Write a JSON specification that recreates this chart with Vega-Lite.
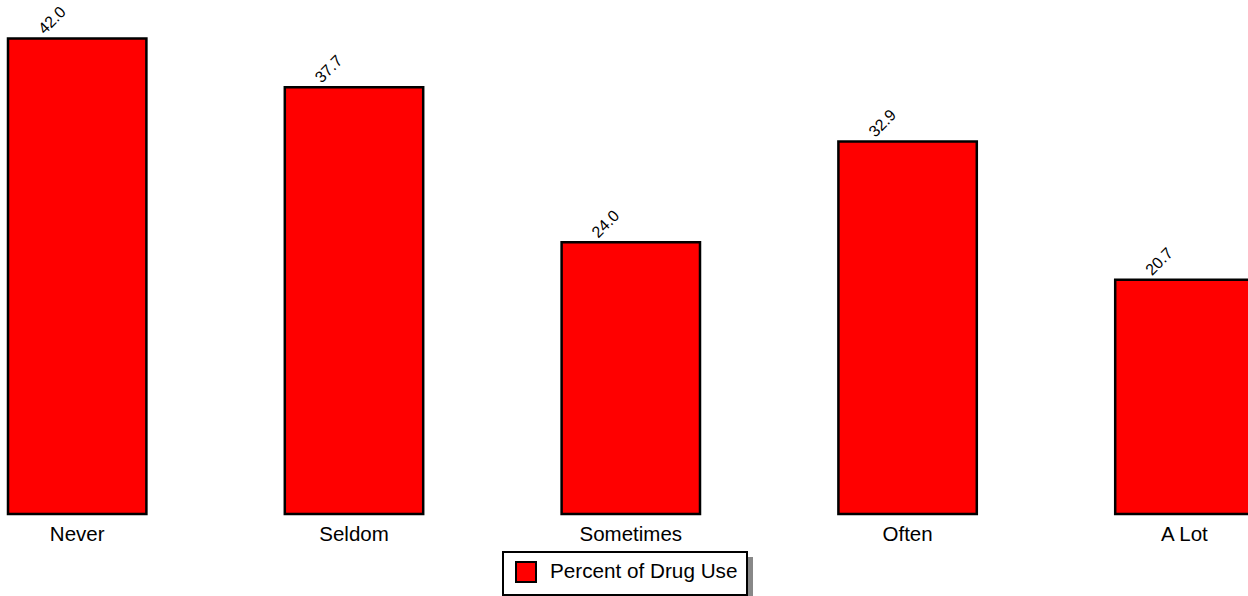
{
  "$schema": "https://vega.github.io/schema/vega-lite/v6.json",
  "width": 1248,
  "height": 514,
  "autosize": {"type": "none"},
  "padding": {"left": 0, "top": 0, "right": 0, "bottom": 82},
  "background": "white",
  "config": {
    "view": {"stroke": null},
    "font": "Liberation Sans",
    "legend": {"strokeWidth": 2}
  },
  "data": {
    "values": [
      {"category": "Never", "percent": 42.0},
      {"category": "Seldom", "percent": 37.7},
      {"category": "Sometimes", "percent": 24.0},
      {"category": "Often", "percent": 32.9},
      {"category": "A Lot", "percent": 20.7}
    ]
  },
  "encoding": {
    "x": {
      "field": "category",
      "type": "nominal",
      "sort": null,
      "scale": {"range": [8, 1253.6], "paddingInner": 0.5, "paddingOuter": 0},
      "axis": {
        "title": null,
        "labelAngle": 0,
        "labelFontSize": 20.5,
        "labelColor": "black",
        "labelFont": "Liberation Sans",
        "ticks": false,
        "domain": false,
        "labelPadding": 10
      }
    },
    "y": {
      "field": "percent",
      "type": "quantitative",
      "scale": {"domain": [0, 45.4]},
      "axis": null
    }
  },
  "layer": [
    {
      "mark": {"type": "bar", "stroke": "black", "strokeWidth": 2.5},
      "encoding": {
        "color": {
          "datum": "Percent of Drug Use",
          "scale": {"range": ["#ff0000"]},
          "legend": {
            "title": null,
            "orient": "none",
            "legendX": 503,
            "legendY": 552,
            "zindex": 2,
            "fillColor": "white",
            "strokeColor": "black",
            "padding": 9,
            "symbolType": "square",
            "symbolSize": 400,
            "symbolOffset": 3,
            "symbolStrokeColor": "black",
            "symbolStrokeWidth": 2,
            "labelFontSize": 20.7,
            "labelOffset": 13,
            "labelColor": "black",
            "labelFont": "Liberation Sans",
            "labelLimit": 400
          }
        },
        "opacity": {
          "datum": "shadow",
          "scale": {"range": [1]},
          "legend": {
            "title": null,
            "orient": "none",
            "legendX": 509,
            "legendY": 558,
            "zindex": 1,
            "fillColor": "#888888",
            "strokeColor": "#888888",
            "padding": 9,
            "symbolType": "square",
            "symbolSize": 400,
            "symbolOffset": 3,
            "symbolOpacity": 0,
            "labelExpr": "''",
            "labelOffset": 200
          }
        }
      }
    },
    {
      "mark": {
        "type": "text",
        "angle": 315,
        "align": "center",
        "baseline": "middle",
        "fontSize": 16,
        "xOffset": -25,
        "yOffset": -18,
        "color": "black",
        "font": "Liberation Sans"
      },
      "encoding": {
        "text": {"field": "percent", "type": "quantitative", "format": ".1f"}
      }
    }
  ]
}
